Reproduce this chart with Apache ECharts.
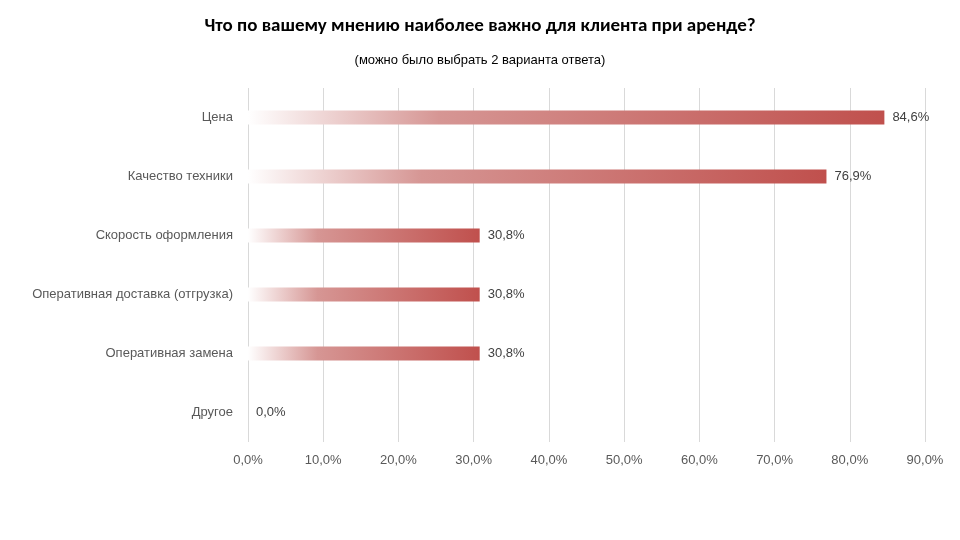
<!DOCTYPE html>
<html><head><meta charset="utf-8">
<script src="https://cdn.jsdelivr.net/npm/echarts@6/dist/echarts.min.js"></script>
<style>html,body{margin:0;background:#fff}#c{width:960px;height:540px}</style>
</head><body><div id="c"></div>
<script>
const categories = ['Цена', 'Качество техники', 'Скорость оформления', 'Оперативная доставка (отгрузка)', 'Оперативная замена', 'Другое']
const values = [84.6, 76.9, 30.8, 30.8, 30.8, 0.0]
const xTicks = [0, 10, 20, 30, 40, 50, 60, 70, 80, 90]

const fmt = v => v.toFixed(1).replace('.', ',') + '%'

const chart = echarts.init(document.getElementById('c'))
chart.setOption({
  animation: false,
  title: [
    { text: 'Что по вашему мнению наиболее важно для клиента при аренде?', left: 'center', top: 12,
      textStyle: { fontFamily: 'Calibri, Carlito, "Liberation Sans", sans-serif', fontSize: 19, fontWeight: 'bold', color: '#000' } },
    { text: '(можно было выбрать 2 варианта ответа)', left: 'center', top: 49,
      textStyle: { fontFamily: '"Liberation Sans", sans-serif', fontSize: 13, fontWeight: 'normal', color: '#000' } }
  ],
  grid: { left: 248, right: 35, top: 88, bottom: 98 },
  xAxis: {
    type: 'value', min: 0, max: 90, interval: 10,
    axisLabel: { formatter: v => xTicks.includes(v) ? fmt(v) : '', color: '#595959', fontSize: 13, margin: 12,
      fontFamily: '"Liberation Sans", sans-serif' },
    splitLine: { lineStyle: { color: '#d9d9d9' } },
    axisLine: { show: false }, axisTick: { show: false }
  },
  yAxis: {
    type: 'category', data: categories, inverse: true,
    axisLabel: { color: '#595959', fontSize: 13, margin: 15, fontFamily: '"Liberation Sans", sans-serif' },
    axisLine: { show: false }, axisTick: { show: false }
  },
  series: [{
    type: 'bar', data: values, barWidth: 14,
    itemStyle: {
      color: new echarts.graphic.LinearGradient(0, 0, 1, 0, [
        { offset: 0, color: 'rgba(255,255,255,1)' },
        { offset: 0.3, color: 'rgba(214,150,148,1)' },
        { offset: 1, color: '#c0504d' }
      ])
    },
    label: { show: true, position: 'right', formatter: p => fmt(p.value), color: '#404040', fontSize: 13,
      distance: 8, fontFamily: '"Liberation Sans", sans-serif' }
  }]
})
</script></body></html>
